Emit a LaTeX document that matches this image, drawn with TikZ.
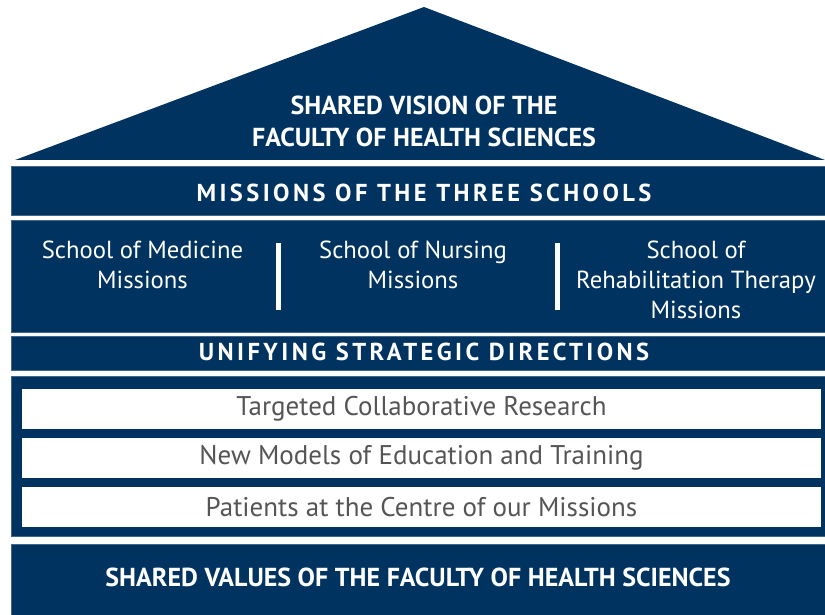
\documentclass[tikz,border=0pt]{standalone}
\usepackage{fontspec}
\setmainfont{PT Sans}
\newfontfamily\spacedfont[LetterSpace=14]{PT Sans}
\definecolor{fhsnavy}{RGB}{0,51,96}
\definecolor{fhsgray}{RGB}{85,85,85}
\begin{document}
\begin{tikzpicture}[x=1pt,y=-1pt,
  bar/.style={fill=fhsnavy,draw=fhsnavy!75!white,line width=0.6pt,minimum width=814pt,inner sep=0pt,text=white},
  title/.style={text=white,font=\fontsize{26}{32}\selectfont\bfseries,align=center},
  spaced/.style={text=white,font=\fontsize{24.5}{24.5}\selectfont\spacedfont\bfseries},
  school/.style={text=white,font=\fontsize{24.7}{30}\selectfont,align=center,anchor=north},
  strategy/.style={fill=white,minimum width=799pt,minimum height=40pt,inner sep=0pt,text=fhsgray,font=\fontsize{27}{27}\selectfont}]
\useasboundingbox (0,0) rectangle (825,615);
\fill[fhsnavy] (15,160) -- (424,7) -- (825,160) -- cycle;
\path (424,121) node(vision) [title] {SHARED VISION OF THE\\FACULTY OF HEALTH SCIENCES};
\path (418,190.5) node(missions) [bar,minimum height=49pt] {};
\path (424,193) node(missionsText) [spaced] {MISSIONS OF THE THREE SCHOOLS};
\path (418,276) node(schools) [bar,minimum height=112pt] {};
\path (142.5,237) node(medicine) [school] {School of Medicine\\Missions};
\path (413,237) node(nursing) [school] {School of Nursing\\Missions};
\path (696,237) node(rehab) [school] {School of\\Rehabilitation Therapy\\Missions};
\draw[white,line width=5pt] (278,243) -- (278,310);
\draw[white,line width=5pt] (557,243) -- (557,310);
\path (418,353) node(unifying) [bar,minimum height=34pt] {};
\path (424,352) node(unifyingText) [spaced] {UNIFYING STRATEGIC DIRECTIONS};
\path (418,456) node(directions) [bar,minimum height=160pt] {};
\path (421.5,409) node(research) [strategy] {Targeted Collaborative Research};
\path (421.5,458) node(education) [strategy] {New Models of Education and Training};
\path (421.5,507) node(patients) [strategy] {Patients at the Centre of our Missions};
\path (418,580) node(values) [bar,minimum height=71pt] {};
\path (418,577) node(valuesText) [title] {SHARED VALUES OF THE FACULTY OF HEALTH SCIENCES};
\end{tikzpicture}
\end{document}
